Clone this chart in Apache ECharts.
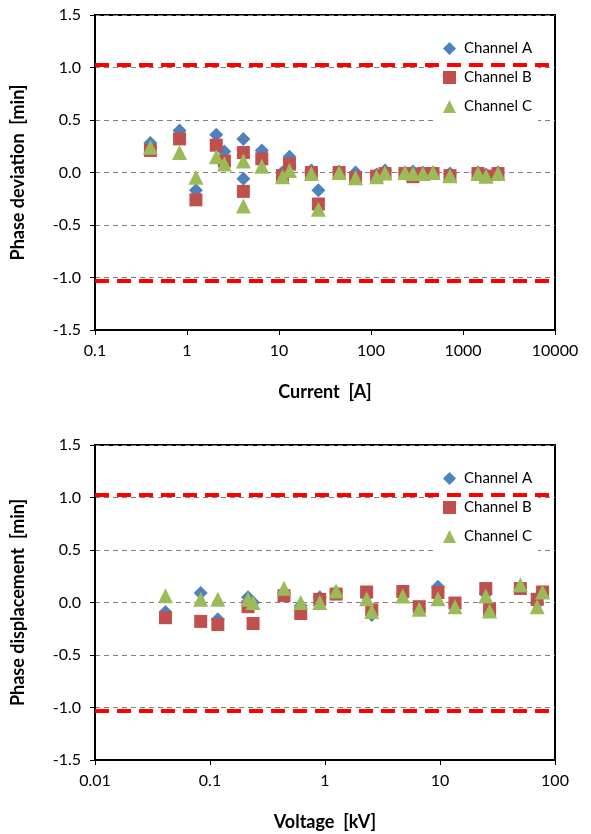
<!DOCTYPE html>
<html>
<head>
<meta charset="utf-8">
<script src="https://cdn.jsdelivr.net/npm/echarts@6/dist/echarts.min.js"></script>
<style>
  html, body { margin: 0; padding: 0; background: #fff; }
  #chart { width: 591px; height: 834px; }
</style>
</head>
<body>
<div id="chart"></div>
<script>
// top panel: phase deviation vs current
const currentA = [0.4, 0.83, 1.25, 2.08, 2.55, 4.1, 4.1, 6.5, 10.9, 13, 22.5, 26.8, 45, 68, 115, 142, 234, 286, 367, 472, 722, 1456, 1778, 2400];
const devA = [0.28, 0.40, -0.17, 0.36, 0.20, 0.32, -0.06, 0.21, 0.0, 0.15, 0.02, -0.17, 0.01, 0.0, -0.02, 0.02, 0.0, 0.01, 0.0, 0.0, -0.01, 0.0, -0.02, 0.0];
const devB = [0.21, 0.32, -0.26, 0.26, 0.11, 0.19, -0.18, 0.13, -0.03, 0.08, 0.0, -0.30, 0.0, -0.05, -0.035, -0.01, -0.01, -0.04, -0.01, -0.01, -0.03, -0.01, -0.035, -0.01];
const devC = [0.24, 0.19, -0.045, 0.15, 0.08, 0.11, -0.32, 0.06, -0.04, 0.02, -0.01, -0.35, 0.0, -0.05, -0.04, -0.005, 0.0, -0.01, -0.01, 0.0, -0.03, -0.01, -0.035, -0.01];

// bottom panel: phase displacement vs voltage
const voltage = [0.041, 0.083, 0.117, 0.214, 0.237, 0.44, 0.615, 0.9, 1.25, 2.3, 2.55, 4.75, 6.6, 9.6, 13.5, 25, 27, 50, 70, 78];
const dispA = [-0.09, 0.09, -0.16, 0.05, 0.0, 0.09, -0.03, 0.05, 0.1, 0.06, -0.12, 0.08, -0.06, 0.15, -0.02, 0.08, -0.07, 0.14, -0.01, 0.1];
const dispB = [-0.145, -0.18, -0.21, -0.04, -0.2, 0.065, -0.105, 0.03, 0.08, 0.1, -0.07, 0.105, -0.04, 0.095, -0.005, 0.133, -0.067, 0.133, 0.03, 0.1];
const dispC = [0.065, 0.03, 0.03, 0.03, 0.0, 0.135, 0.0, 0.0, 0.11, 0.035, -0.085, 0.063, -0.065, 0.035, -0.04, 0.063, -0.08, 0.17, -0.04, 0.1];

const limit = 1.03;
const currentTicks = ['0.1', '1', '10', '100', '1000', '10000'];
const voltageTicks = ['0.01', '0.1', '1', '10', '100'];
const channels = ['Channel A', 'Channel B', 'Channel C'];

const FONT = 'Lato';
const colors = ['#4f81bd', '#c0504d', '#9bbb59'];
const symbols = ['diamond', 'rect', 'triangle'];
const sizes = [14, 13, 15];

const zip = (xs, ys) => xs.map((x, i) => [x, ys[i]]);

function xAxisOf(gridIndex, min, max, ticks, name) {
  return {
    type: 'log', logBase: 10, gridIndex, min, max,
    name, nameLocation: 'middle', nameGap: 53,
    nameTextStyle: { fontFamily: FONT, fontSize: 18, fontWeight: 'bold', color: '#000' },
    axisLine: { onZero: false, lineStyle: { color: '#000', width: 2 } },
    axisTick: { show: true, length: 5, lineStyle: { color: '#000' } },
    minorTick: { show: false },
    splitLine: { show: false },
    axisLabel: {
      fontFamily: FONT, fontSize: 16, color: '#000', margin: 13,
      formatter: (v, i) => ticks[i]
    }
  };
}

function yAxisOf(gridIndex, name) {
  return {
    type: 'value', gridIndex, min: -1.5, max: 1.5, interval: 0.5,
    name, nameLocation: 'middle', nameGap: 68,
    nameTextStyle: { fontFamily: FONT, fontSize: 18, fontWeight: 'bold', color: '#000' },
    axisLine: { show: true, onZero: false, lineStyle: { color: '#000', width: 2 } },
    axisTick: { show: true, length: 5, lineStyle: { color: '#000' } },
    splitLine: { show: true, lineStyle: { color: '#808080', width: 1, type: [5, 4] } },
    axisLabel: {
      fontFamily: FONT, fontSize: 16, color: '#000', margin: 14,
      formatter: v => v.toFixed(1)
    }
  };
}

function seriesOf(gridIndex, xs, ysList) {
  return ysList.map((ys, k) => {
    const s = {
      name: channels[k], type: 'scatter',
      xAxisIndex: gridIndex, yAxisIndex: gridIndex,
      symbol: symbols[k], symbolSize: sizes[k],
      itemStyle: { color: colors[k], opacity: 1 },
      data: zip(xs, ys)
    };
    if (k === 0) {
      s.markLine = {
        silent: true, symbol: 'none', animation: false,
        label: { show: false },
        lineStyle: { color: '#ff0000', width: 4, type: [14, 8] },
        data: [{ yAxis: limit }, { yAxis: -limit }]
      };
    }
    return s;
  });
}

function legendOf(top) {
  return {
    orient: 'vertical', left: 435, top,
    backgroundColor: '#fff', padding: [8, 6, 8, 8],
    itemWidth: 13, itemHeight: 13, itemGap: 14,
    textStyle: { fontFamily: FONT, fontSize: 15, color: '#000', width: 84, padding: [0, 0, 0, 3] },
    data: channels.map((n, k) => ({ name: n, icon: symbols[k], itemStyle: { color: colors[k] } }))
  };
}

const chart = echarts.init(document.getElementById('chart'), null, { renderer: 'canvas' });
chart.setOption({
  animation: false,
  backgroundColor: '#fff',
  textStyle: { fontFamily: FONT },
  grid: [
    { left: 95, right: 36, top: 15, height: 315, show: true, borderColor: '#000', borderWidth: 2, backgroundColor: 'transparent' },
    { left: 95, right: 36, top: 445, height: 315, show: true, borderColor: '#000', borderWidth: 2, backgroundColor: 'transparent' }
  ],
  legend: [legendOf(33), legendOf(463)],
  xAxis: [
    xAxisOf(0, 0.1, 10000, currentTicks, 'Current  [A]'),
    xAxisOf(1, 0.01, 100, voltageTicks, 'Voltage  [kV]')
  ],
  yAxis: [
    yAxisOf(0, 'Phase deviation  [min]'),
    yAxisOf(1, 'Phase displacement  [min]')
  ],
  series: [
    ...seriesOf(0, currentA, [devA, devB, devC]),
    ...seriesOf(1, voltage, [dispA, dispB, dispC])
  ]
});
</script>
</body>
</html>
